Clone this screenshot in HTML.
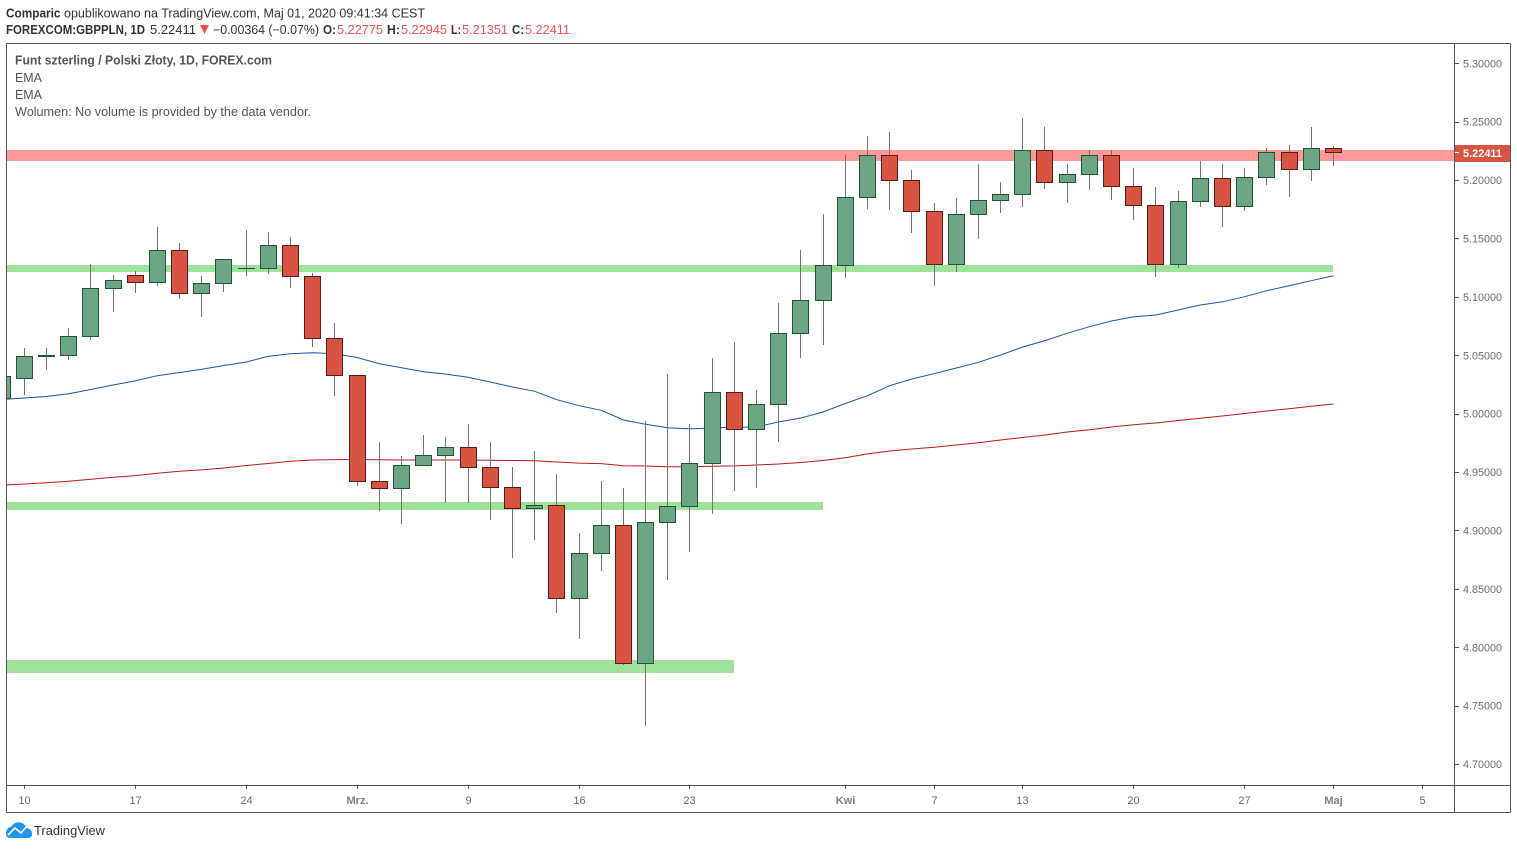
<!DOCTYPE html>
<html lang="pl">
<head>
<meta charset="utf-8">
<title>GBPPLN chart</title>
<style>
html,body{margin:0;padding:0;background:#fff;width:1517px;height:849px;overflow:hidden}
svg{display:block}
text{font-family:"Liberation Sans",sans-serif}
</style>
</head>
<body>
<svg id="chart" xmlns="http://www.w3.org/2000/svg" width="1517" height="849" viewBox="0 0 1517 849">
  <defs><clipPath id="pane"><rect x="7" y="44" width="1447" height="741"/></clipPath></defs>
  <g id="header">
    <text x="6" y="17.5" font-size="12.5" font-weight="bold" fill="#333" textLength="54.5" lengthAdjust="spacingAndGlyphs">Comparic</text>
    <text x="64" y="17.5" font-size="12.5" fill="#333" textLength="361" lengthAdjust="spacingAndGlyphs">opublikowano na TradingView.com, Maj 01, 2020 09:41:34 CEST</text>
    <text x="6" y="34" font-size="12.5" font-weight="bold" fill="#333" textLength="139" lengthAdjust="spacingAndGlyphs">FOREXCOM:GBPPLN, 1D</text>
    <text x="150" y="34" font-size="12.5" fill="#333" textLength="46" lengthAdjust="spacingAndGlyphs">5.22411</text>
    <polygon points="200,25 209,25 204.5,34" fill="#f0504f"/>
    <text x="213" y="34" font-size="12.5" fill="#333" textLength="106" lengthAdjust="spacingAndGlyphs">−0.00364 (−0.07%)</text>
    <text x="323" y="34" font-size="12.5" font-weight="bold" fill="#333" textLength="13" lengthAdjust="spacingAndGlyphs">O:</text>
    <text x="337" y="34" font-size="12.5" fill="#ef5350" textLength="46" lengthAdjust="spacingAndGlyphs">5.22775</text>
    <text x="387" y="34" font-size="12.5" font-weight="bold" fill="#333" textLength="13" lengthAdjust="spacingAndGlyphs">H:</text>
    <text x="401" y="34" font-size="12.5" fill="#ef5350" textLength="46" lengthAdjust="spacingAndGlyphs">5.22945</text>
    <text x="451" y="34" font-size="12.5" font-weight="bold" fill="#333" textLength="10" lengthAdjust="spacingAndGlyphs">L:</text>
    <text x="462" y="34" font-size="12.5" fill="#ef5350" textLength="46" lengthAdjust="spacingAndGlyphs">5.21351</text>
    <text x="512" y="34" font-size="12.5" font-weight="bold" fill="#333" textLength="12" lengthAdjust="spacingAndGlyphs">C:</text>
    <text x="525" y="34" font-size="12.5" fill="#ef5350" textLength="45" lengthAdjust="spacingAndGlyphs">5.22411</text>
  </g>
  <g id="bands" clip-path="url(#pane)"></g>
  <g id="emas" clip-path="url(#pane)"></g>
  <g id="candles" clip-path="url(#pane)"></g>
  <g id="legend">
    <text x="15" y="64.5" font-size="12.5" font-weight="bold" fill="#555" textLength="257" lengthAdjust="spacingAndGlyphs">Funt szterling / Polski Złoty, 1D, FOREX.com</text>
    <text x="15" y="82" font-size="12.5" fill="#555" textLength="27" lengthAdjust="spacingAndGlyphs">EMA</text>
    <text x="15" y="99" font-size="12.5" fill="#555" textLength="27" lengthAdjust="spacingAndGlyphs">EMA</text>
    <text x="15" y="116" font-size="12.5" fill="#555" textLength="296" lengthAdjust="spacingAndGlyphs">Wolumen: No volume is provided by the data vendor.</text>
  </g>
  <g id="yaxis"></g>
  <g id="xaxis"></g>
  <g id="frame" fill="none" stroke="#555" stroke-width="1">
    <rect x="6.5" y="43.5" width="1504" height="769"/>
    <line x1="6.5" y1="785.5" x2="1510.5" y2="785.5"/>
    <line x1="1454.5" y1="43.5" x2="1454.5" y2="812.5"/>
  </g>
  <g id="pricetag"></g>
  <g id="logo">
    <path d="M6 833 C6 829 9 827 11 827 C13 823 18 821 22 823 C25 824 26 827 26 828 C30 828 32 831 32 834 C32 837 30 838 28 838 L10 838 C7 838 6 836 6 833 Z" fill="#2196f3"/>
    <path d="M8 835 L15 828 L21 833 L27 826" fill="none" stroke="#fff" stroke-width="1.6"/>
    <text x="34" y="835" font-size="13" fill="#333" textLength="71" lengthAdjust="spacingAndGlyphs">TradingView</text>
  </g>
</svg>
<script>
const opens = [5.0137,5.0312,5.0498,5.0509,5.0671,5.1082,5.1194,5.1134,5.1408,5.1039,5.1125,5.1251,5.1253,5.1450,5.1185,5.0654,5.0337,4.9430,4.9370,4.9567,4.9652,4.9721,4.9550,4.9378,4.9199,4.9224,4.8428,4.8813,4.9053,4.7872,4.9079,4.9216,4.9584,5.0192,4.9875,5.0089,5.0697,5.0979,5.1279,5.1861,5.2221,5.2007,5.1741,5.1288,5.1716,5.1836,5.1887,5.2264,5.1990,5.2058,5.2221,5.1955,5.1793,5.1288,5.1827,5.2024,5.1784,5.2033,5.2247,5.2101,5.22775];
const highs = [5.0330,5.0563,5.0563,5.0742,5.1290,5.1188,5.1222,5.1607,5.1470,5.1179,5.1330,5.1573,5.1564,5.1521,5.1213,5.0785,5.0337,4.9758,4.9638,4.9826,4.9809,4.9920,4.9766,4.9544,4.9689,4.9492,4.8979,4.9424,4.9372,4.9946,5.0340,4.9920,5.0477,5.0622,5.0211,5.0956,5.1410,5.1710,5.2223,5.2378,5.2412,5.2095,5.1804,5.1847,5.2138,5.1992,5.2540,5.2463,5.2146,5.2258,5.2266,5.2104,5.1949,5.1915,5.2164,5.2138,5.2104,5.2283,5.2309,5.2455,5.22945];
const lows = [5.0135,5.0171,5.0385,5.0471,5.0642,5.0882,5.1045,5.1104,5.0999,5.0839,5.1053,5.1190,5.1207,5.1087,5.0582,5.0163,4.9392,4.9184,4.9067,4.9567,4.9247,4.9247,4.9107,4.8776,4.8930,4.8305,4.8082,4.8664,4.7860,4.7337,4.8587,4.8827,4.9152,4.9349,4.9375,4.9769,5.0494,5.0597,5.1173,5.1764,5.1755,5.1558,5.1104,5.1224,5.1507,5.1729,5.1781,5.1935,5.1815,5.1926,5.1841,5.1670,5.1182,5.1259,5.1781,5.1610,5.1747,5.1969,5.1866,5.2003,5.21351];
const closes = [5.0329,5.0500,5.0505,5.0671,5.1082,5.1151,5.1134,5.1408,5.1039,5.1125,5.1330,5.1253,5.1450,5.1185,5.0654,5.0337,4.9430,4.9370,4.9567,4.9652,4.9721,4.9550,4.9378,4.9199,4.9224,4.8428,4.8813,4.9053,4.7872,4.9079,4.9216,4.9584,5.0192,4.9875,5.0089,5.0697,5.0979,5.1279,5.1861,5.2221,5.2007,5.1741,5.1288,5.1716,5.1836,5.1887,5.2264,5.1990,5.2058,5.2221,5.1955,5.1793,5.1288,5.1827,5.2024,5.1784,5.2033,5.2247,5.2101,5.2281,5.22411];
const emaBlue = [5.0130,5.0143,5.0156,5.0180,5.0216,5.0254,5.0289,5.0334,5.0361,5.0389,5.0421,5.0451,5.0500,5.0522,5.0531,5.0522,5.0490,5.0437,5.0402,5.0368,5.0348,5.0320,5.0280,5.0237,5.0200,5.0128,5.0077,5.0038,4.9955,4.9918,4.9889,4.9878,4.9886,4.9892,4.9895,4.9938,4.9972,5.0023,5.0096,5.0163,5.0248,5.0306,5.0351,5.0400,5.0449,5.0511,5.0580,5.0634,5.0697,5.0753,5.0802,5.0839,5.0854,5.0896,5.0939,5.0967,5.1010,5.1062,5.1104,5.1147,5.1190];
const emaRed = [4.9396,4.9407,4.9418,4.9431,4.9447,4.9464,4.9479,4.9499,4.9515,4.9527,4.9544,4.9565,4.9582,4.9601,4.9612,4.9616,4.9616,4.9615,4.9612,4.9612,4.9612,4.9612,4.9610,4.9608,4.9606,4.9595,4.9586,4.9581,4.9563,4.9561,4.9555,4.9555,4.9559,4.9562,4.9569,4.9578,4.9591,4.9608,4.9632,4.9664,4.9689,4.9706,4.9721,4.9741,4.9760,4.9783,4.9805,4.9826,4.9852,4.9872,4.9895,4.9914,4.9929,4.9950,4.9970,4.9989,5.0010,5.0032,5.0051,5.0072,5.0092];
const priceTicks = [5.30,5.25,5.20,5.15,5.10,5.05,5.00,4.95,4.90,4.85,4.80,4.75,4.70];
const timeLabels = ["10","17","24","Mrz.","9","16","23","Kwi","7","13","20","27","Maj","5"];
const timeBars = [1,6,11,16,21,26,31,38,42,46,51,56,60,64];
const zoneHigh = [5.2266,5.1282,4.9253,4.7900];
const zoneLow = [5.2172,5.1222,4.9184,4.7788];
const zoneEndBar = [66,60,37,33];
const lastPrice = 5.22411;

const SVGNS = 'http://www.w3.org/2000/svg';
function xScale(i){ return 2.065 + 22.19 * i; }
function yScale(p){ return 64.3 + (5.3 - p) * 1168; }
function snap(v){ return Math.floor(v) + 0.5; }
function add(parent, tag, attrs){
  const el = document.createElementNS(SVGNS, tag);
  for (const k in attrs) el.setAttribute(k, attrs[k]);
  parent.appendChild(el);
  return el;
}

const bandsG = document.getElementById('bands');
zoneHigh.forEach(function(h, i){
  const top = Math.round(yScale(h));
  const bottom = Math.round(yScale(zoneLow[i]));
  const el = add(bandsG, 'rect', {x: 6, y: top, width: Math.round(xScale(zoneEndBar[i])) - 6, height: bottom - top, fill: i === 0 ? '#ff9999' : '#a0e29c'});
  
  
});

function linePath(values){
  return values.map(function(v, i){ return (i ? 'L' : 'M') + xScale(i).toFixed(1) + ' ' + yScale(v).toFixed(1); }).join(' ');
}
const emasG = document.getElementById('emas');
const blueLine = add(emasG, 'path', {d: linePath(emaBlue), fill: 'none', stroke: '#1e53a5', 'stroke-width': 1});


const redLine = add(emasG, 'path', {d: linePath(emaRed), fill: 'none', stroke: '#b71c1c', 'stroke-width': 1});



const candlesG = document.getElementById('candles');
closes.forEach(function(c, i){
  const up = c >= opens[i];
  const cx = snap(xScale(i));
  const g = add(candlesG, 'g', {});
  
  
  const wick = add(g, 'line', {x1: cx, x2: cx, y1: Math.floor(yScale(highs[i])), y2: Math.ceil(yScale(lows[i])), stroke: '#737375', 'stroke-width': 1});
  
  
  const top = snap(yScale(Math.max(c, opens[i])));
  const bottom = snap(yScale(Math.min(c, opens[i])));
  const body = add(g, 'rect', {x: cx - 8, y: top, width: 16, height: Math.max(bottom - top, 0.01), fill: up ? '#6ba583' : '#d75442', stroke: up ? '#225437' : '#5b1a13', 'stroke-width': 1});
  
  
});

const yaxisG = document.getElementById('yaxis');
priceTicks.forEach(function(p){
  const y = yScale(p);
  const t = add(yaxisG, 'line', {x1: 1455, x2: 1459, y1: snap(y - 0.5), y2: snap(y - 0.5), stroke: '#555', 'stroke-width': 1});
  
  
  const lbl = add(yaxisG, 'text', {x: 1463, y: (y + 3).toFixed(1), 'font-size': 11, fill: '#6b6b6b', textLength: 39, lengthAdjust: 'spacingAndGlyphs'});
  lbl.textContent = p.toFixed(5);
  
  
});

const xaxisG = document.getElementById('xaxis');
timeLabels.forEach(function(label, i){
  const x = snap(xScale(timeBars[i]));
  const t = add(xaxisG, 'line', {x1: x, x2: x, y1: 785, y2: 789, stroke: '#555', 'stroke-width': 1});
  
  
  const month = isNaN(parseInt(label, 10));
  const lbl = add(xaxisG, 'text', {x: x, y: 804, 'font-size': 11, fill: month ? '#808080' : '#6b6b6b', 'text-anchor': 'middle', 'font-weight': month ? 'bold' : 'normal'});
  lbl.textContent = label;
  
  
});

const tagG = document.getElementById('pricetag');
const tagY = yScale(lastPrice);
const tagRect = add(tagG, 'rect', {x: 1455, y: Math.round(tagY - 8), width: 55, height: 17, fill: '#d75442'});


const tagTick = add(tagG, 'line', {x1: 1455, x2: 1459, y1: snap(tagY), y2: snap(tagY), stroke: '#fff', 'stroke-width': 1});


const tagText = add(tagG, 'text', {x: 1463, y: (tagY + 4).toFixed(1), 'font-size': 11, 'font-weight': 'bold', fill: '#fff', textLength: 39, lengthAdjust: 'spacingAndGlyphs'});
tagText.textContent = lastPrice.toFixed(5);


</script>
</body>
</html>
